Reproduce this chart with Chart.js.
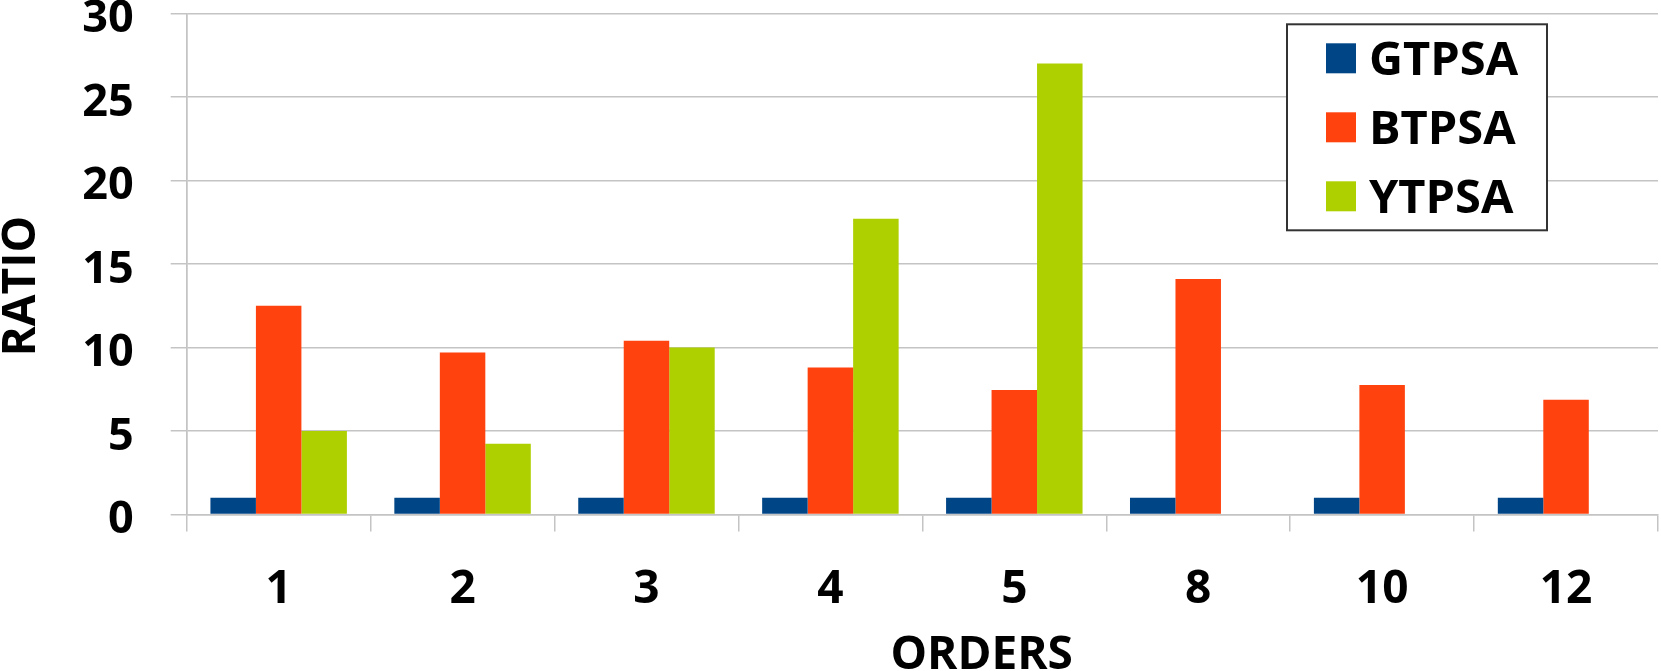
<!DOCTYPE html>
<html>
<head>
<meta charset="utf-8">
<title>Ratio by order</title>
<script src="https://cdn.jsdelivr.net/npm/chart.js@4.4.1/dist/chart.umd.min.js"></script>
<style>
    html, body { margin: 0; padding: 0; background: #ffffff; }
    #wrap { width: 1661px; height: 671px; }
</style>
</head>
<body>
<div id="wrap"><canvas id="myBarChartRatio" width="1661" height="671"></canvas></div>
<script>
    "use strict";

    // Chart data
    var orders = ["1", "2", "3", "4", "5", "8", "10", "12"];
    var gtpsa = [1, 1, 1, 1, 1, 1, 1, 1];
    var btpsa = [12.5, 9.7, 10.4, 8.8, 7.45, 14.1, 7.75, 6.87];
    var ytpsa = [5.0, 4.24, 10.0, 17.7, 27.0, null, null, null];
    var yTicks = [0, 5, 10, 15, 20, 25, 30];

    var fontName = "'Open Sans', 'Noto Sans', sans-serif";
    var gridColor = "#c4c4c4";

    Chart.defaults.color = "#000000";
    Chart.defaults.font.family = fontName;
    Chart.defaults.font.weight = "bold";

    // Legend box drawn inside the plot area, top right
    var boxLegend = {
        id: "boxLegend",
        afterDraw: function (chart) {
            var ctx = chart.ctx;
            var area = chart.chartArea;
            var x = area.right - 371, y = area.top + 11;
            var w = 260, h = 206;
            ctx.save();
            ctx.fillStyle = "#ffffff";
            ctx.fillRect(x, y, w, h);
            ctx.strokeStyle = "#333333";
            ctx.lineWidth = 2;
            ctx.strokeRect(x, y, w, h);
            ctx.font = "bold 47px " + fontName;
            ctx.textBaseline = "middle";
            ctx.textAlign = "left";
            chart.data.datasets.forEach(function (ds, i) {
                var cy = y + 34 + i * 69;
                ctx.fillStyle = ds.backgroundColor;
                ctx.fillRect(x + 39, cy - 15, 30, 30);
                ctx.fillStyle = "#000000";
                ctx.fillText(ds.label, x + 82, cy + 3);
            });
            ctx.restore();
        }
    };

    // Axis titles, placed like the original
    var axisTitles = {
        id: "axisTitles",
        afterDraw: function (chart) {
            var ctx = chart.ctx;
            var area = chart.chartArea;
            ctx.save();
            ctx.font = "bold 46px " + fontName;
            ctx.fillStyle = "#000000";
            ctx.textAlign = "center";
            ctx.textBaseline = "middle";
            ctx.fillText("ORDERS", area.left + 795, chart.height - 15);
            ctx.translate(20, area.top + 273);
            ctx.rotate(-Math.PI / 2);
            ctx.fillText("RATIO", 0, 2);
            ctx.restore();
        }
    };

    var ctx1 = document.getElementById("myBarChartRatio").getContext("2d");
    var myChart1 = new Chart(ctx1, {
        type: "bar",
        data: {
            labels: orders,
            datasets: [{
                label: "GTPSA",
                data: gtpsa,
                backgroundColor: "#004586"
            }, {
                label: "BTPSA",
                data: btpsa,
                backgroundColor: "#ff420e"
            }, {
                label: "YTPSA",
                data: ytpsa,
                backgroundColor: "#aecf00"
            }]
        },
        options: {
            responsive: false,
            animation: false,
            layout: { padding: { top: 0, right: 3, bottom: 0, left: 0 } },
            datasets: {
                bar: { categoryPercentage: 0.742, barPercentage: 1.0, borderWidth: 0 }
            },
            plugins: {
                legend: { display: false },
                tooltip: { enabled: false }
            },
            scales: {
                x: {
                    grid: {
                        offset: true,
                        tickLength: 17,
                        lineWidth: 1.5,
                        tickColor: gridColor,
                        color: function (c) {
                            return (c.index === 0 || c.index === orders.length) ? gridColor : "rgba(0,0,0,0)";
                        }
                    },
                    border: { display: true, color: gridColor, width: 1.5 },
                    ticks: {
                        font: { size: 46, weight: "bold" },
                        padding: 31,
                        maxRotation: 0
                    },
                    afterFit: function (s) {
                        s.height = 156.5;
                        s.paddingLeft = 0;
                        s.paddingRight = 0;
                    }
                },
                y: {
                    min: 0,
                    max: 30,
                    afterBuildTicks: function (s) {
                        s.ticks = yTicks.map(function (v) { return { value: v }; });
                    },
                    grid: {
                        tickLength: 16,
                        lineWidth: 1.5,
                        color: gridColor
                    },
                    border: { display: true, color: gridColor, width: 1.5 },
                    ticks: {
                        font: { size: 45, weight: "bold" },
                        padding: 37,
                        labelOffset: 6
                    },
                    afterFit: function (s) {
                        s.width = 186.7;
                        s.paddingTop = 13.3;
                        s.paddingBottom = 0;
                    }
                }
            }
        },
        plugins: [boxLegend, axisTitles]
    });
</script>
</body>
</html>
